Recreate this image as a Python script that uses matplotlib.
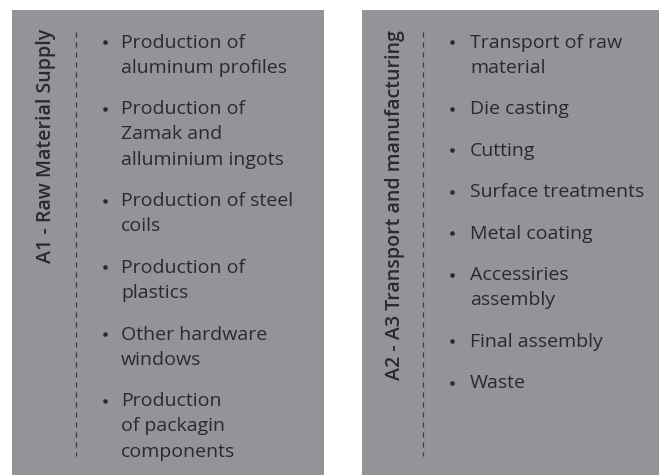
import matplotlib.pyplot as plt
from matplotlib.patches import Rectangle

# panel titles and bullet items (line breaks as in the reference)
titles = ["A1 - Raw Material Supply", "A2 - A3 Transport and manufacturing"]
items_a1 = [
    "Production of\naluminum profiles",
    "Production of\nZamak and\nalluminium ingots",
    "Production of steel\ncoils",
    "Production of\nplastics",
    "Other hardware\nwindows",
    "Production\nof packagin\ncomponents",
]
items_a2 = [
    "Transport of raw\nmaterial",
    "Die casting",
    "Cutting",
    "Surface treatments",
    "Metal coating",
    "Accessiries\nassembly",
    "Final assembly",
    "Waste",
]

BG = "#939498"
INK = "#2a2a2c"
FONT = ["Open Sans", "DejaVu Sans"]

fig = plt.figure(figsize=(6.59, 4.75), dpi=100)
ax = fig.add_axes([0, 0, 1, 1])
ax.set_xlim(0, 659)
ax.set_ylim(475, 0)
ax.axis("off")

panels = [
    # box x0, x1, title x, dash x, bullet x, text x, title center y, items
    dict(x0=12, x1=324, tx=46, dx=76, bx=105, txt=121, ty=146, items=items_a1, title=titles[0]),
    dict(x0=362, x1=659, tx=395, dx=423, bx=452, txt=470, ty=205, items=items_a2, title=titles[1]),
]

line_h = 25.2
gap = 41.5
for p in panels:
    ax.add_patch(Rectangle((p["x0"], 10), p["x1"] - p["x0"], 470, color=BG, lw=0))
    ax.plot([p["dx"], p["dx"]], [32, 456], color="#3a3a3c", lw=0.9, ls=(0, (4, 4)))
    ax.text(p["tx"], p["ty"], p["title"], rotation=90, ha="center", va="center",
            fontsize=14.1, color=INK, family=FONT, weight="semibold")
    y = 42.5
    for item in p["items"]:
        lines = item.split("\n")
        ax.plot(p["bx"], y - 0.5, "o", ms=3.3, color=INK, mec="none")
        for k, ln in enumerate(lines):
            ax.text(p["txt"], y + k * line_h, ln, ha="left", va="center",
                    fontsize=14, color=INK, family=FONT)
        y += (len(lines) - 1) * line_h + gap

fig.savefig("out.png", dpi=100)
